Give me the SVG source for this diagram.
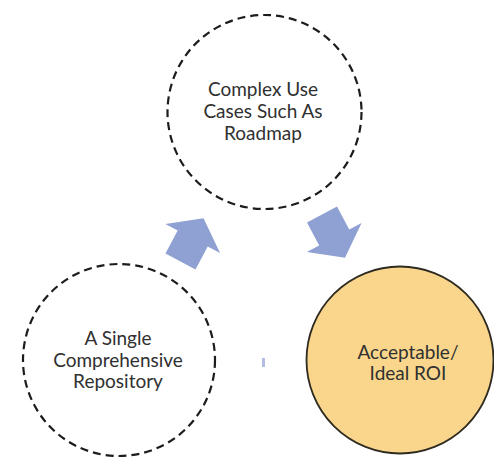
<svg xmlns="http://www.w3.org/2000/svg" width="494" height="458" viewBox="0 0 494 458">
  <defs>
    <style>
      .dashed { fill: none; stroke: #1c1c1c; stroke-width: 2.2; stroke-dasharray: 8 5; }
      .solid { fill: #F9D68B; stroke: #2e2a22; stroke-width: 1.8; }
      .lbl { font-family: Lato, "Liberation Sans", sans-serif; font-size: 19px; fill: #303030; text-anchor: middle; }
      .arrow { fill: #8FA0D3; }
    </style>
    <polygon id="blockArrow" points="0,-17 26,-17 26,-31 49,0 26,31 26,17 0,17"/>
  </defs>
  <rect width="494" height="458" fill="#ffffff"/>

  <g id="connectors">
    <use href="#blockArrow" class="arrow" transform="translate(180.5,261.5) rotate(-62)"/>
    <use href="#blockArrow" class="arrow" transform="translate(322,214.5) rotate(62)"/>
    <rect x="262" y="358" width="3" height="9" fill="#9AA5D8" opacity="0.75"/>
  </g>

  <g id="node-complex">
    <circle class="dashed" cx="264.5" cy="112" r="97"/>
    <text class="lbl" x="263" y="96">Complex Use</text>
    <text class="lbl" x="263" y="118">Cases Such As</text>
    <text class="lbl" x="263" y="140">Roadmap</text>
  </g>

  <g id="node-repository">
    <circle class="dashed" cx="119" cy="360" r="96"/>
    <text class="lbl" x="118" y="345">A Single</text>
    <text class="lbl" x="118" y="366.5">Comprehensive</text>
    <text class="lbl" x="118" y="388">Repository</text>
  </g>

  <g id="node-roi">
    <circle class="solid" cx="400" cy="360" r="93.5"/>
    <text class="lbl" x="408" y="359">Acceptable/</text>
    <text class="lbl" x="408" y="380">Ideal ROI</text>
  </g>
</svg>
